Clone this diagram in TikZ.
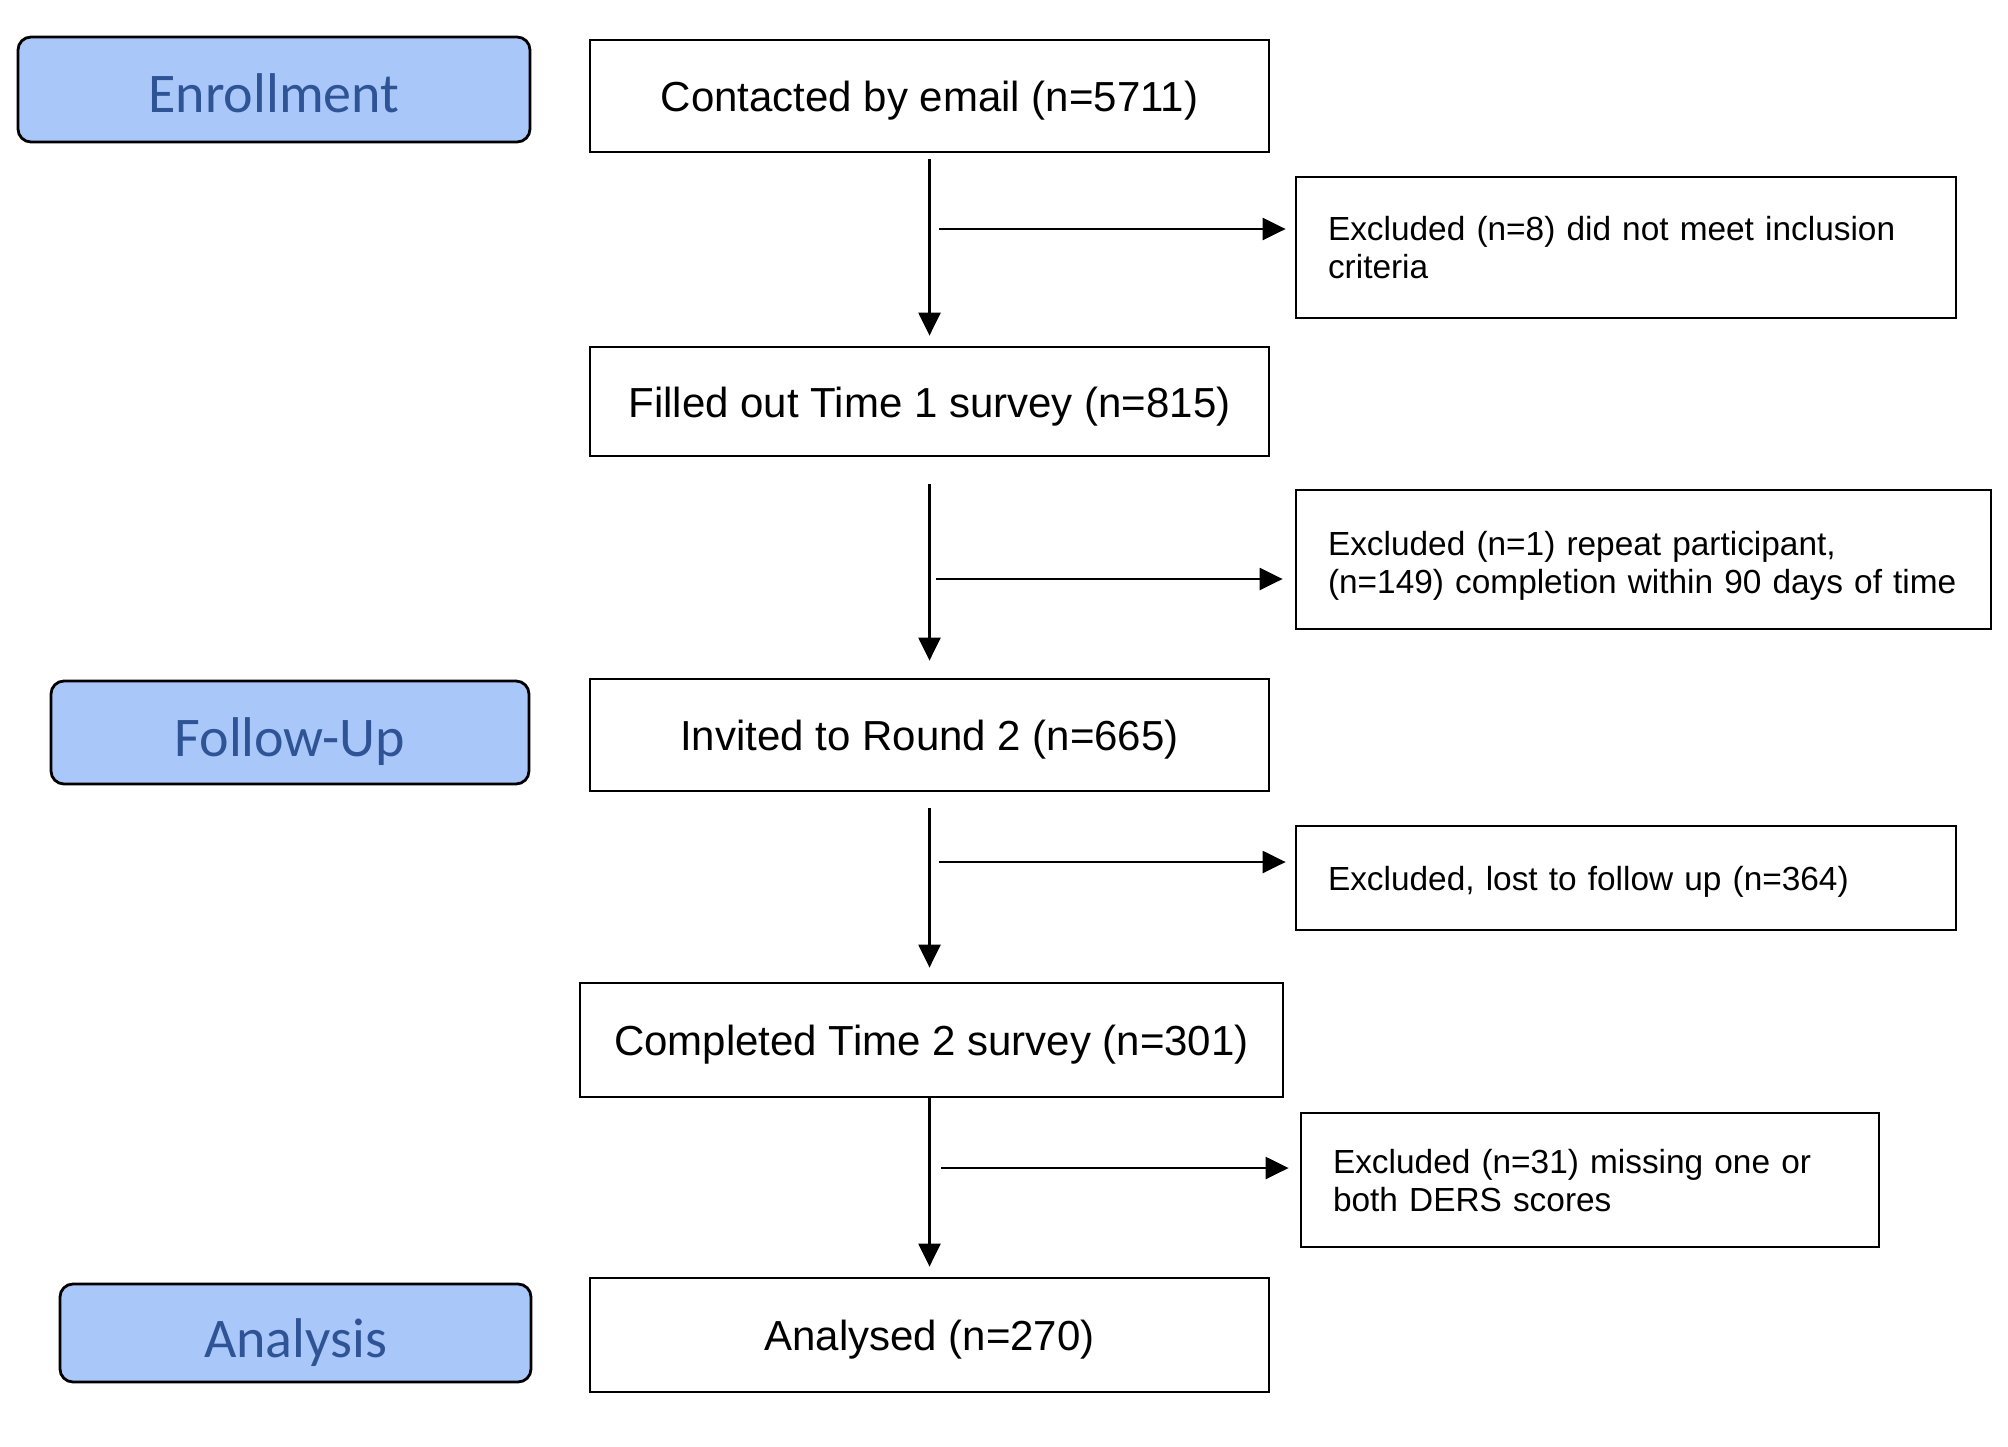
\documentclass[tikz,border=0pt]{standalone}
\usepackage{fontspec}
\setmainfont{Liberation Sans}
\newfontfamily\labelfont{Carlito}
\usetikzlibrary{arrows.meta}
\definecolor{phasefill}{RGB}{170,199,250}
\definecolor{phasetext}{RGB}{47,84,150}
\begin{document}
\begin{tikzpicture}[x=0.5pt,y=-0.5pt,
  mainbox/.style={draw=black, line width=1.4pt, fill=white, font=\fontsize{21pt}{25pt}\selectfont, inner sep=0pt, align=center, text height=15.5pt, text depth=0pt},
  exbox/.style={draw=black, line width=1.4pt, fill=white, font=\fontsize{16.7pt}{19.2pt}\selectfont, inner xsep=16pt, inner ysep=0pt, align=left},
  phase/.style={draw=black, line width=1.4pt, fill=phasefill, rounded corners=6.5pt, text=phasetext, font=\labelfont\fontsize{28pt}{32pt}\selectfont, inner sep=0pt, text depth=0pt},
  flow/.style={line width=1.2pt, -{Triangle[length=11.5pt,width=11pt]}}
]
\useasboundingbox (0,0) rectangle (2008,1446);

% phase labels
\node[phase, minimum width=256pt, minimum height=52.5pt, text height=22.6pt] (enr) at (274,89.5) {Enrollment};
\node[phase, minimum width=239pt, minimum height=51.5pt, text height=24pt] (fol) at (290,732.5) {Follow-Up};
\node[phase, minimum width=235.5pt, minimum height=49pt, text height=24pt] (ana) at (295.5,1333) {Analysis};

% main flow boxes
\node[mainbox, minimum width=339.5pt, minimum height=56pt] (contact) at (929.5,96) {Contacted by email (n=5711)};
\node[mainbox, minimum width=339.5pt, minimum height=54.5pt] (filled) at (929.5,401.5) {Filled out Time 1 survey (n=815)};
\node[mainbox, minimum width=339.5pt, minimum height=56pt] (invited) at (929.5,735) {Invited to Round 2 (n=665)};
\node[mainbox, minimum width=351.5pt, minimum height=57pt] (completed) at (931.5,1040) {Completed Time 2 survey (n=301)};
\node[mainbox, minimum width=339.5pt, minimum height=57pt] (analysed) at (929.5,1335) {Analysed (n=270)};

% exclusion boxes
\node[exbox, text width=298pt, minimum height=70.5pt] (ex1) at (1626,247.5) {\mbox{Excluded (n=8) did not meet inclusion}\\criteria};
\node[exbox, text width=315.5pt, minimum height=69.5pt, text depth=16.3pt] (ex2) at (1643.5,559.5) {\mbox{Excluded (n=1) repeat participant,}\\\mbox{(n=149) completion within 90 days of time}};
\node[exbox, text width=298pt, minimum height=52pt, text depth=0pt] (ex3) at (1626,878) {Excluded, lost to follow up (n=364)};
\node[exbox, text width=257pt, minimum height=67pt, text depth=18.9pt] (ex4) at (1590,1180) {\mbox{Excluded (n=31) missing one or}\\both DERS scores};

% vertical arrows
\draw[flow, shorten <=3pt, shorten >=5pt] (contact.south) -- (filled.north);
\draw[flow, shorten <=13.5pt, shorten >=8.5pt] (filled.south) -- (invited.north);
\draw[flow, shorten <=8pt, shorten >=7pt] (invited.south) -- (invited.south |- completed.north);
\draw[flow, shorten >=5pt] (completed.south -| analysed.north) -- (analysed.north);

% horizontal arrows
\coordinate (h1) at (939,229);
\coordinate (h2) at (936,579);
\coordinate (h3) at (939,862);
\coordinate (h4) at (941,1168);
\draw[flow, shorten >=4.5pt] (h1) -- (h1 -| ex1.west);
\draw[flow, shorten >=6pt] (h2) -- (h2 -| ex2.west);
\draw[flow, shorten >=4.5pt] (h3) -- (h3 -| ex3.west);
\draw[flow, shorten >=5.5pt] (h4) -- (h4 -| ex4.west);
\end{tikzpicture}
\end{document}
